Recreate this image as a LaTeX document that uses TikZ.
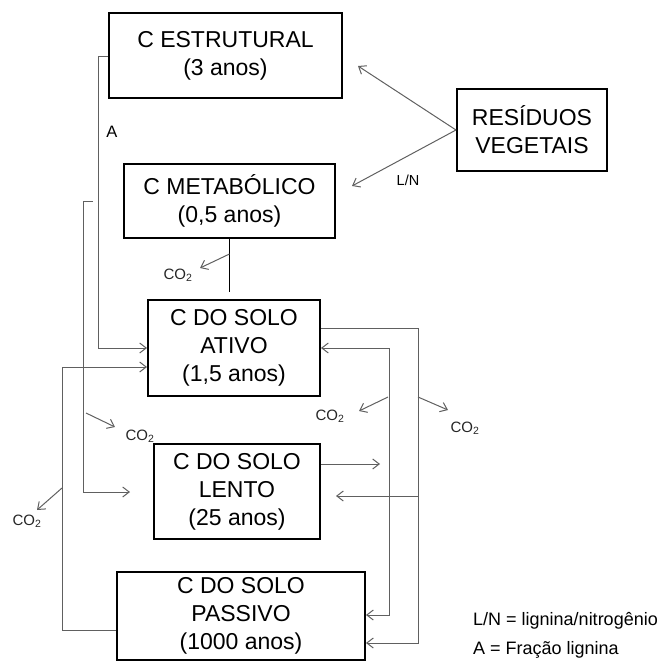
\documentclass[tikz,border=0pt]{standalone}
\usepackage{fontspec}
\setmainfont{Liberation Sans}
\usetikzlibrary{arrows.meta}
\definecolor{cgray}{HTML}{606060}
\begin{document}
\begin{tikzpicture}[x=1pt,y=-1pt,
  box/.style={draw=black, line width=2pt, align=center, inner sep=0pt,
    font=\fontsize{23}{28}\selectfont},
  conn/.style={draw=cgray, line width=1pt},
  tip/.tip={Straight Barb[length=6.5pt,width=10pt]},
  arr/.style={conn, -tip},
  lbl/.style={font=\fontsize{15}{18}\selectfont, text=black!85, inner sep=0pt},
  leg/.style={font=\fontsize{18}{20}\selectfont, anchor=base west, inner sep=0pt}
]
\useasboundingbox (0,0) rectangle (657,663);

% boxes
\node[box, minimum width=233pt, minimum height=85pt] (estr) at (225.5,55.5) {C ESTRUTURAL\\(3 anos)};
\node[box, minimum width=211pt, minimum height=74pt] (meta) at (229.5,201) {C METABÓLICO\\(0,5 anos)};
\node[box, minimum width=172pt, minimum height=96pt] (ativo) at (234,348) {C DO SOLO\\ATIVO\\(1,5 anos)};
\node[box, minimum width=166pt, minimum height=95pt] (lento) at (237,491.5) {C DO SOLO\\LENTO\\(25 anos)};
\node[box, minimum width=248pt, minimum height=88pt] (pass) at (241,616) {C DO SOLO\\PASSIVO\\(1000 anos)};
\node[box, minimum width=150pt, minimum height=82pt] (res) at (532,130) {RESÍDUOS\\VEGETAIS};

% residues to litter pools
\coordinate (eIn) at (358,66);
\coordinate (mIn) at (352,186);
\draw[arr] (res.west) -- (eIn);
\draw[arr] (res.west) -- (mIn);
\node[font=\fontsize{14.5}{16}\selectfont, inner sep=0pt] (ln) at (408,180) {L/N};

% structural -> active (A)
\coordinate (aCorner) at (98,57);
\draw[arr] ([yshift=-1.5pt]estr.west) -- (aCorner) |- (ativo.west);
\node[font=\fontsize{16.5}{18}\selectfont, inner sep=0pt] (A) at (112,132) {A};

% line to slow pool
\coordinate (m1) at (93,201);
\coordinate (m2) at (83,201);
\coordinate (lIn) at (130,492);
\draw[arr] (m1) -- (m2) |- (lIn);

% metabolic vertical
\coordinate (mEnd) at (229.5,292);
\draw[line width=1pt] (meta.south) -- (mEnd);
\coordinate (c1s) at (229.5,254);
\coordinate (c1e) at (200,268);
\draw[arr] (c1s) -- (c1e);
\node[lbl] (co1) at (178,275) {CO\textsubscript{2}};

% passive -> active
\coordinate (pc) at (62,630);
\draw[arr] ([yshift=-14pt]pass.west) -- (pc) |- ([yshift=-19pt]ativo.west);
\coordinate (c2s) at (62,488);
\coordinate (c2e) at (37,510);
\draw[arr] (c2s) -- (c2e);
\node[lbl] (co2) at (27,521) {CO\textsubscript{2}};

% CO2 near slow
\coordinate (c3s) at (86,413);
\coordinate (c3e) at (115,427);
\draw[arr] (c3s) -- (c3e);
\node[lbl] (co3) at (140,436) {CO\textsubscript{2}};

% active -> passive / slow
\coordinate (r1) at (418,328);
\draw[arr] ([yshift=20pt]ativo.east) -- (r1) |- ([yshift=-27pt]pass.east);
\coordinate (r2) at (418,496);
\coordinate (lIn2) at (336,496);
\draw[arr] (r2) -- (lIn2);
\coordinate (c4s) at (418,397);
\coordinate (c4e) at (448,410);
\draw[arr] (c4s) -- (c4e);
\node[lbl] (co4) at (465,428) {CO\textsubscript{2}};

% slow -> active / passive
\coordinate (lOut) at (380,464);
\draw[arr] ([yshift=27.5pt]lento.east) -- (lOut);
\coordinate (v1) at (389,348);
\coordinate (v2) at (389,615);
\draw[conn, tip-tip] (ativo.east) -- (v1) -- (v2) -- ([yshift=1pt]pass.east);
\coordinate (c5s) at (388,397);
\coordinate (c5e) at (359,411);
\draw[arr] (c5s) -- (c5e);
\node[lbl] (co5) at (330,416) {CO\textsubscript{2}};

% legend
\node[leg] (leg1) at (473,625) {L/N = lignina/nitrogênio};
\node[leg] (leg2) at (473,654) {A = Fração lignina};
\end{tikzpicture}
\end{document}
